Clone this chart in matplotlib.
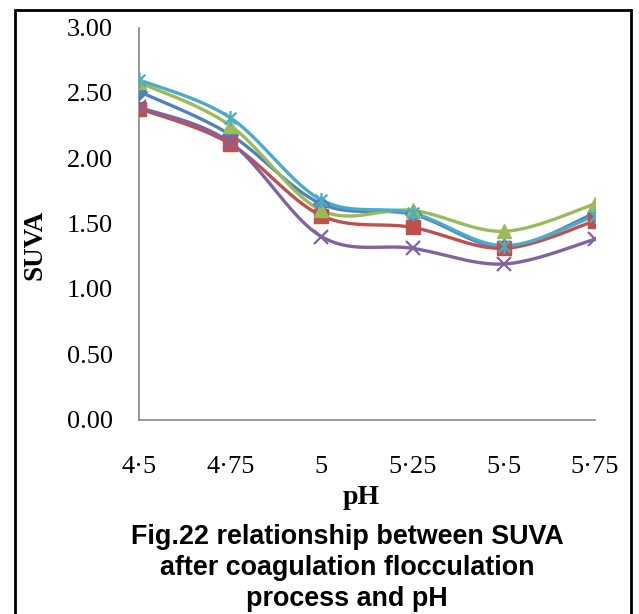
import numpy as np
import matplotlib
matplotlib.use("Agg")
import matplotlib.pyplot as plt
from matplotlib.path import Path
from matplotlib.patches import Rectangle

# ---- data ----
ph_labels = ["4·5", "4·75", "5", "5·25", "5·5", "5·75"]
series_blue = [2.51, 2.18, 1.65, 1.57, 1.32, 1.58]
series_red = [2.38, 2.11, 1.56, 1.47, 1.31, 1.52]
series_green = [2.58, 2.25, 1.60, 1.60, 1.44, 1.65]
series_purple = [2.39, 2.12, 1.40, 1.31, 1.19, 1.38]
series_cyan = [2.60, 2.31, 1.68, 1.58, 1.33, 1.56]
y_ticks = [0.0, 0.5, 1.0, 1.5, 2.0, 2.5, 3.0]

W, H = 639, 614
fig = plt.figure(figsize=(W / 100, H / 100), dpi=100)
ax = fig.add_axes([139 / W, 1 - 419.5 / H, (595 - 139) / W, (419.5 - 27.5) / H])


def smooth(xs, ys, n=40):
    """Excel-like smoothed line (Catmull-Rom Bezier)."""
    P = np.column_stack([xs, ys]).astype(float)
    ext = np.vstack([P[0], P, P[-1]])
    out = []
    t = np.linspace(0, 1, n)[:, None]
    for i in range(len(P) - 1):
        p0, p1, p2, p3 = ext[i], ext[i + 1], ext[i + 2], ext[i + 3]
        c1 = p1 + (p2 - p0) / 6
        c2 = p2 - (p3 - p1) / 6
        seg = ((1 - t) ** 3) * p1 + 3 * ((1 - t) ** 2) * t * c1 + 3 * (1 - t) * t ** 2 * c2 + t ** 3 * p2
        out.append(seg if i == 0 else seg[1:])
    out = np.vstack(out)
    return out[:, 0], out[:, 1]


star = Path(
    [(-1, -1), (1, 1), (-1, 1), (1, -1), (0, -1.3), (0, 1.3)],
    [Path.MOVETO, Path.LINETO, Path.MOVETO, Path.LINETO, Path.MOVETO, Path.LINETO],
)

x = np.arange(len(ph_labels))
specs = [
    (series_blue, "#4F81BD", "D", 8.5, {}),
    (series_red, "#C0504D", "s", 10.5, {}),
    (series_green, "#9BBB59", "^", 10.5, {}),
    (series_purple, "#8064A2", "x", 10, {"markeredgewidth": 1.6}),
    (series_cyan, "#4BACC6", star, 11, {"markeredgewidth": 1.6}),
]
for vals, col, mk, ms, extra in specs:
    sx, sy = smooth(x, vals)
    ax.plot(sx, sy, color=col, lw=2.4, solid_capstyle="round", zorder=2)
    ax.plot(x, vals, linestyle="none", marker=mk, markersize=ms, color=col,
            markeredgecolor=col, zorder=3, **extra)

ax.set_xlim(0, len(ph_labels) - 1)
ax.set_ylim(0, 3)
ax.set_xticks(x)
ax.set_xticklabels(ph_labels)
ax.set_yticks(y_ticks)
ax.set_yticklabels([f"{v:.2f}" for v in y_ticks])

serif = "Liberation Serif"
for lab in ax.get_xticklabels() + ax.get_yticklabels():
    lab.set_fontfamily(serif)
    lab.set_fontsize(19)
ax.tick_params(axis="both", length=0)
ax.tick_params(axis="x", pad=26)
ax.tick_params(axis="y", pad=19)

for s in ["top", "right"]:
    ax.spines[s].set_visible(False)
for s in ["left", "bottom"]:
    ax.spines[s].set_color("#868686")
    ax.spines[s].set_linewidth(1.2)

fig.text(35 / W, 1 - 245 / H, "SUVA", rotation=90, ha="center", va="center",
         fontfamily=serif, fontweight="bold", fontsize=19.5)
fig.text(361 / W, 1 - 497 / H, "pH", ha="center", va="center",
         fontfamily=serif, fontweight="bold", fontsize=20)

cap_lines = ["Fig.22 relationship between SUVA",
             "after coagulation flocculation",
             "process and pH"]
for ypix, line in zip([537, 568, 599], cap_lines):
    fig.text(347 / W, 1 - ypix / H, line, ha="center", va="center",
             fontfamily="Liberation Sans", fontweight="bold", fontsize=19.4)

fig.add_artist(Rectangle((14.5 / W, -0.02), (631 - 14.5) / W, 1.02 - 10.5 / H,
                         transform=fig.transFigure, fill=False, edgecolor="black",
                         linewidth=2))

fig.savefig("out.png", dpi=100)
